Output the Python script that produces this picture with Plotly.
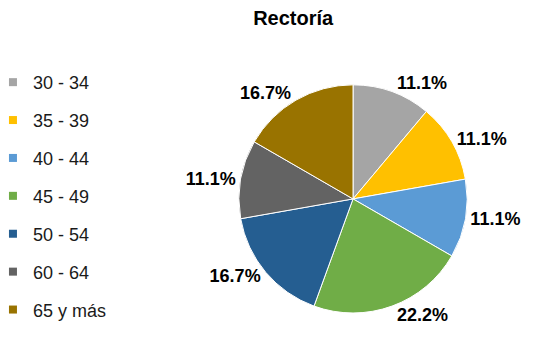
import plotly.graph_objects as go

categorias = ["30 - 34", "35 - 39", "40 - 44", "45 - 49", "50 - 54", "60 - 64", "65 y más"]
personas = [2, 2, 2, 4, 3, 2, 3]
colores = ["#A5A5A5", "#FFC000", "#5B9BD5", "#70AD47", "#255E91", "#636363", "#997300"]

fig = go.Figure()
fig.add_trace(go.Pie(
    labels=categorias, values=personas, sort=False, direction="clockwise", rotation=0,
    marker=dict(colors=colores, line=dict(color="white", width=1)),
    textposition="outside", texttemplate="%{percent:.1%}",
    textfont=dict(family="Liberation Sans, Arial", size=18, color="black", weight="bold"),
    domain=dict(x=[0.430, 0.855], y=[0.095, 0.772]),
    showlegend=False, hoverinfo="label+percent",
))

# legend entries (one per category so they can be spaced out)
for cat, col in zip(categorias, colores):
    fig.add_trace(go.Scatter(
        x=[None], y=[None], mode="markers", name=cat, legendgroup=cat,
        marker=dict(symbol="square", size=8, color=col),
    ))

fig.update_layout(
    width=537, height=337,
    margin=dict(l=0, r=0, t=0, b=0, autoexpand=False),
    paper_bgcolor="white", plot_bgcolor="white",
    title=dict(text="<b>Rectoría</b>", x=0.531, xanchor="center", y=0.97, yanchor="middle",
               font=dict(family="Liberation Sans, Arial", size=20, color="black")),
    font=dict(family="Liberation Sans, Arial", size=18, color="#1a1a1a"),
    legend=dict(x=-0.028, y=0.834, xanchor="left", yanchor="top", tracegroupgap=11.5,
                font=dict(size=18, color="#1a1a1a"), itemwidth=30),
    xaxis=dict(visible=False), yaxis=dict(visible=False),
)

fig.write_html("out.html")
